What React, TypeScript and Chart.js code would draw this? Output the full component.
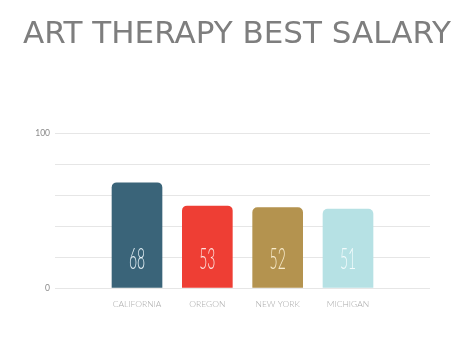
import React, { useEffect, useRef } from "react";
import { Chart, registerables } from "chart.js";

Chart.register(...registerables);

const categories = ["CALIFORNIA", "OREGON", "NEW YORK", "MICHIGAN"];
const salaries = [68, 53, 52, 51];
const barColors = ["#3a6479", "#ee3e34", "#b4934f", "#b6e1e4"];
const valueColors = ["#e4f0f5", "#fde2de", "#f8eccd", "#f2fbfc"];
const yTickLabels = [0, 100];
const titleText = "ART THERAPY BEST SALARY";

const valueLabelPlugin = {
  id: "valueLabels",
  afterDatasetsDraw(chart: any) {
    const ctx = chart.ctx;
    const meta = chart.getDatasetMeta(0);
    const base = chart.scales.y.getPixelForValue(0);
    meta.data.forEach((bar: any, i: number) => {
      ctx.save();
      ctx.translate(bar.x, base - 28);
      ctx.scale(0.48, 1);
      ctx.font = "300 29px Lato";
      ctx.fillStyle = valueColors[i];
      ctx.textAlign = "center";
      ctx.textBaseline = "middle";
      ctx.fillText(String(salaries[i]), 0, 0);
      ctx.restore();
    });
  },
};

export default function App() {
  const ref = useRef<HTMLCanvasElement>(null);
  useEffect(() => {
    const data = salaries.map((v, i) => ({ x: i + 1, y: v }));
    const chart = new Chart(ref.current!, {
      type: "bar",
      data: {
        datasets: [
          {
            data,
            backgroundColor: barColors,
            barThickness: 50,
            borderRadius: { topLeft: 5, topRight: 5, bottomLeft: 0, bottomRight: 0 },
            borderSkipped: "bottom",
          },
        ],
      },
      options: {
        animation: false,
        responsive: true,
        maintainAspectRatio: false,
        layout: { padding: 0 },
        plugins: {
          legend: { display: false },
          tooltip: { enabled: false },
          title: {
            display: true,
            text: titleText,
            color: "#7e7e7e",
            font: { family: "DejaVu Sans", size: 31, weight: "normal" },
            padding: { top: 16, bottom: 80 },
          },
        },
        scales: {
          x: {
            type: "linear",
            offset: false,
            min: -0.166,
            max: 5.166,
            grid: { display: false, drawTicks: false },
            border: { display: false },
            afterFit: (s: any) => {
              s.height = 67;
            },
            afterBuildTicks: (s: any) => {
              s.ticks = categories.map((_, i) => ({ value: i + 1 }));
            },
            ticks: {
              autoSkip: false,
              maxRotation: 0,
              padding: 11,
              color: "#aaaaaa",
              font: { family: "Lato", size: 8.5, weight: "300" },
              callback: (v: any) => categories[Number(v) - 1] ?? "",
            },
          },
          y: {
            min: 0,
            max: 100,
            grid: { color: "#e6e6e6", drawTicks: false, lineWidth: 1 },
            border: { display: false },
            afterFit: (s: any) => {
              s.width = 55;
            },
            ticks: {
              stepSize: 20,
              padding: 5,
              color: "#8a8a8a",
              font: { family: "Lato", size: 8.5 },
              callback: (v: any) => (yTickLabels.includes(Number(v)) ? String(v) : ""),
            },
          },
          yRight: {
            position: "right",
            min: 0,
            max: 100,
            grid: { display: false, drawTicks: false },
            border: { display: false },
            ticks: { display: false },
            afterFit: (s: any) => {
              s.width = 44;
            },
          },
        },
      },
      plugins: [valueLabelPlugin],
    });
    return () => chart.destroy();
  }, []);
  return (
    <div style={{ position: "fixed", left: 0, top: 0, width: 474, height: 355, background: "#fff" }}>
      <canvas ref={ref} />
    </div>
  );
}
